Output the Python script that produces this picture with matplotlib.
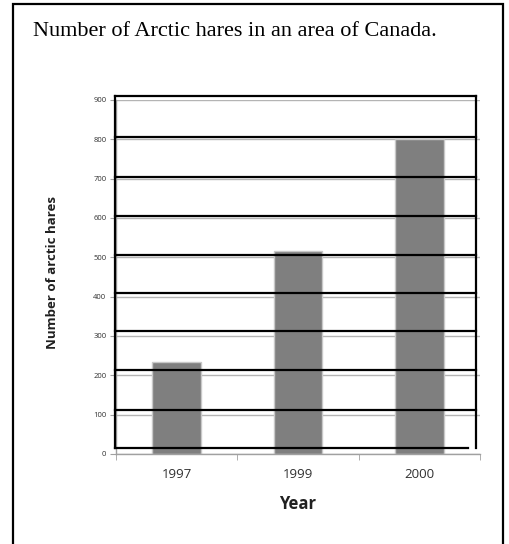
import numpy as np
import matplotlib.pyplot as plt
from matplotlib.patches import Rectangle

# data
years = ['1997', '1999', '2000']
hares = [235, 515, 800]
y_ticks = [0, 100, 200, 300, 400, 500, 600, 700, 800, 900]
# hand-drawn black lines over the chart (data units)
drawn_levels = [910, 805, 703, 605, 505, 410, 312, 213, 112, 15]

W, H = 509, 544
fig = plt.figure(figsize=(W / 100, H / 100), dpi=100)

# outer frame of the page
fig.patches.append(Rectangle((13 / W, -0.05), (503 - 13) / W, 1.05 - 4 / H,
                             transform=fig.transFigure, fill=False,
                             edgecolor='black', linewidth=1.6))

fig.text(33 / W, 1 - 32 / H, 'Number of Arctic hares in an area of Canada.',
         family='Liberation Serif', fontsize=16, va='center', ha='left')

ax = fig.add_axes([116 / W, 1 - 454 / H, (480 - 116) / W, (454 - 100) / H])
x = np.arange(len(years))
ax.bar(x, hares, width=0.4, color='#7f7f7f', edgecolor='#c8c8c8',
       linewidth=1, zorder=2)

ax.set_xlim(-0.5, len(years) - 0.5)
ax.set_ylim(0, 900)
ax.set_yticks(y_ticks)
ax.set_yticklabels([str(v) for v in y_ticks], family='Open Sans',
                   fontsize=5.5, color='#303030')
ax.set_xticks(x)
ax.set_xticklabels(years, family='Open Sans', fontsize=9.5, color='#303030')
ax.set_xticks(np.arange(-0.5, len(years)), minor=True)
ax.tick_params(axis='x', which='major', length=0, pad=10)
ax.tick_params(axis='x', which='minor', length=4, color='#a0a0a0')
ax.tick_params(axis='y', length=4, color='#a0a0a0', pad=3)

ax.yaxis.grid(True, color='#b4b4b4', linewidth=1)
ax.set_axisbelow(True)
for s in ['top', 'right']:
    ax.spines[s].set_visible(False)
for s in ['left', 'bottom']:
    ax.spines[s].set_color('#a0a0a0')
    ax.spines[s].set_linewidth(1)

ax.set_xlabel('Year', family='Open Sans', fontweight='bold', fontsize=12,
              labelpad=10, color='#202020')
ax.set_ylabel('Number of arctic hares', family='Open Sans',
              fontweight='bold', fontsize=9.5, color='#202020')
ax.yaxis.set_label_coords(-0.157, 0.514)

# hand-drawn black lines
xl, xr = -0.5 - 0.01, -0.5 + 3 * 0.989
for i, lv in enumerate(drawn_levels):
    xe = xr if i < len(drawn_levels) - 1 else -0.5 + 3 * 0.967
    ax.plot([xl, xe], [lv, lv], color='black', linewidth=1.6,
            clip_on=False, zorder=4)
ax.plot([xl, xl], [drawn_levels[-1], drawn_levels[0]], color='black',
        linewidth=1.6, clip_on=False, zorder=4)
ax.plot([xr, xr], [drawn_levels[-1], drawn_levels[0]], color='black',
        linewidth=1.6, clip_on=False, zorder=4)

fig.savefig('out.png', dpi=100)
